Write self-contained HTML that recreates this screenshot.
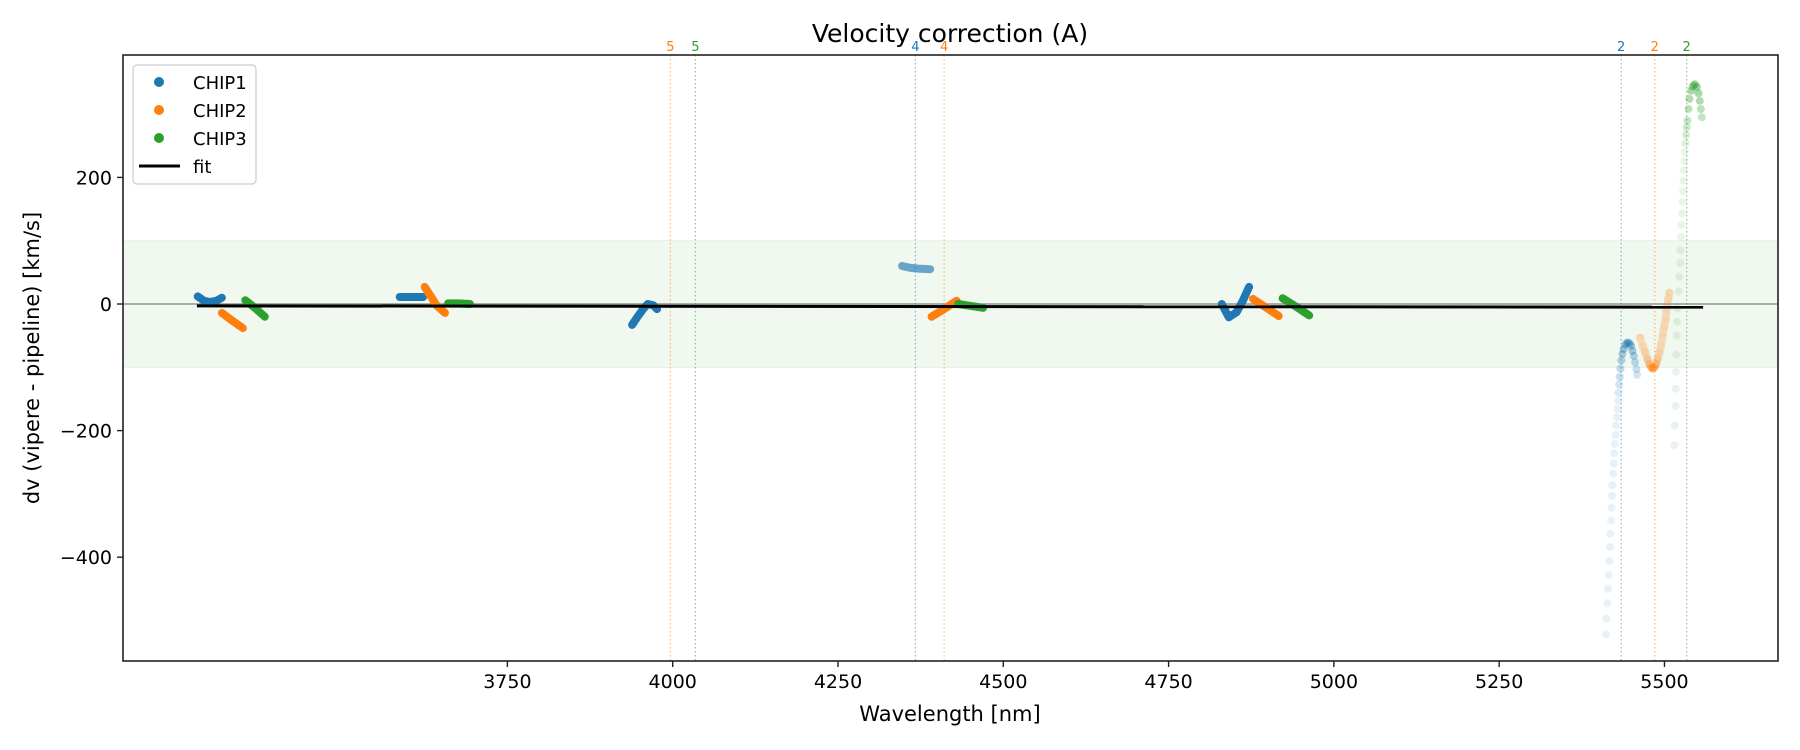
<!DOCTYPE html>
<html><head><meta charset="utf-8"><style>
html,body{margin:0;padding:0;background:#fff;}
svg{display:block;font-family:"DejaVu Sans","Liberation Sans",sans-serif;}
</style></head><body>
<svg id="chart" width="1800" height="750" viewBox="0 0 1800 750" xmlns="http://www.w3.org/2000/svg"></svg>
<script>
// ---- data ----
const xTicks = [3750, 4000, 4250, 4500, 4750, 5000, 5250, 5500];
const yTicks = [200, 0, -200, -400];
const chip1Wave = [[3281.6,3291,3300.5,3309.9,3318.2],[3587.1,3604.8,3622.5],[3938.6,3946.9,3955.2,3962.2,3970.5,3976.4],[4830.5,4841.1,4852.9,4862.3,4871.8]];
const chip1Dv   = [[12,5,3,5,10],[11,11,11],[-33,-20,-8,0,-2,-8],[0,-21,-13,5,27]];
const chip2Wave = [[3318.2,3333.5,3350],[3624.9,3634.3,3642.6,3655.6],[4391.6,4410.5,4429.4],[4877.7,4896.5,4916.6]];
const chip2Dv   = [[-14,-26,-38],[27,12,-2,-14],[-20,-8,5],[8,-5,-19]];
const chip3Wave = [[3353.6,3369,3383.1],[3660.3,3675.7,3693.4],[4431.8,4450.6,4469.5],[4922.5,4942.6,4962.6]];
const chip3Dv   = [[6,-7,-20],[1,1,0],[0,-3,-6],[9,-4,-18]];
// faded (low weight) segments
const chip1FadeWave = [4346.9,4359.9,4371.6,4389.3];
const chip1FadeDv = [60,57,56,55];
const chip1TailWave = [5411.7,5412.2,5413.7,5414.7,5415.7,5416.8,5417.7,5418.2,5419.3,5419.8,5420.8,5421.3,5422.3,5423.3,5423.7,5424.8,5425.7,5426.8,5427.9,5428.8,5429.9,5430.4,5431.4,5432.4,5433.4,5434.8,5436.4,5438.4,5441,5443.9,5447,5449.5,5451.5,5453.6,5455.6,5457.6,5458.6];
const chip1TailDv = [-522,-497,-473,-450,-428,-406,-384,-363,-342,-322,-303,-286,-268,-252,-236,-221,-207,-192,-179,-166,-153,-140,-127,-115,-102,-89,-79,-71,-64,-61,-62,-66,-74,-82,-92,-103,-112];
const chip2TailWave = [5463.2,5467.2,5470.7,5474.3,5477.2,5479.8,5482.3,5484.9,5487.3,5489.8,5492.4,5494.9,5497.4,5499.5,5501.5,5503,5504.5,5506,5507.5];
const chip2TailDv = [-53,-66,-76,-87,-95,-100,-102,-100,-95,-87,-76,-64,-50,-37,-24,-11,0,9,18];
const chip3TailWave = [5515.1,5515.5,5516.6,5517.1,5517.5,5518.1,5518.6,5519.1,5519.6,5521.7,5522.6,5523.7,5524.2,5525.1,5525.7,5526.6,5527.2,5528.2,5528.6,5529.7,5530.2,5530.6,5531.7,5532.8,5533.7,5534.8,5536.3,5537.7,5540.3,5542.8,5545.8,5548.9,5551.4,5553.4,5555,5556.5];
const chip3TailDv = [-223,-192,-161,-134,-107,-80,-50,-28,-7,20,43,65,85,106,125,143,161,178,195,211,226,240,254,267,279,290,308,324,337,344,347,343,333,321,308,295];
const fitWave = [3280.4, 5558.4];
const fitDv = [-3, -5];
const markWave = [3996.5, 4034.3, 4367, 4410.5, 5434.5, 5485.3, 5533.6];
const markLabel = ['5','5','4','4','2','2','2'];
const markChip = [2,3,1,2,1,2,3];
const bandLimits = [-100, 100];

// ---- layout ----
const L=123, R=1778, T=55, B=661;
const xMin=3168.6, xMax=5671.7, yMin=-564, yMax=393.4;
const X = w => L + (w - xMin) / (xMax - xMin) * (R - L);
const Y = v => B - (v - yMin) / (yMax - yMin) * (B - T);
const C = {1:'#1f77b4', 2:'#ff7f0e', 3:'#2ca02c'};
const NS='http://www.w3.org/2000/svg';
const svg=document.getElementById('chart');
function mk(tag, attrs, parent){const e=document.createElementNS(NS,tag);for(const k in attrs)e.setAttribute(k,attrs[k]);(parent||svg).appendChild(e);return e;}

const clip = mk('clipPath',{id:'plotclip'});
mk('rect',{x:L,y:T,width:R-L,height:B-T},clip);
const plot = mk('g',{'clip-path':'url(#plotclip)'});



const band = mk('rect',{x:L,y:Y(bandLimits[1]),width:R-L,height:Y(bandLimits[0])-Y(bandLimits[1]),fill:'#2ca02c','fill-opacity':0.07,stroke:'#2ca02c','stroke-opacity':0.1,'stroke-width':1},plot);



const zl = mk('line',{x1:L,x2:R,y1:Y(0),y2:Y(0),stroke:'#808080','stroke-width':1.2},plot);



markWave.forEach((w,i)=>{
  const ln = mk('line',{x1:X(w),x2:X(w),y1:T,y2:B,stroke:C[markChip[i]],'stroke-width':1.2,'stroke-dasharray':'1.5,2.5','stroke-opacity':0.55},plot);
  
  
  const t = mk('text',{x:X(w),y:T-4,'text-anchor':'middle','font-size':13,fill:C[markChip[i]]});
  t.textContent=markLabel[i];
  
  
});

function seg(waves, dvs, color, op, name){
  const pts = waves.map((w,i)=>X(w).toFixed(1)+','+Y(dvs[i]).toFixed(1)).join(' ');
  const p = mk('polyline',{points:pts,fill:'none',stroke:color,'stroke-width':8,'stroke-linecap':'round','stroke-linejoin':'round','stroke-opacity':op},plot);
  
  
}
chip1Wave.forEach((w,i)=>seg(w,chip1Dv[i],C[1],1,'chip1-segment'));
chip2Wave.forEach((w,i)=>seg(w,chip2Dv[i],C[2],1,'chip2-segment'));
chip3Wave.forEach((w,i)=>seg(w,chip3Dv[i],C[3],1,'chip3-segment'));
seg(chip1FadeWave, chip1FadeDv, C[1], 0.65, 'chip1-faded-segment');

function dots(waves, dvs, color, peakIdx, name){
  waves.forEach((w,i)=>{
    const d = Math.abs(i-peakIdx)/waves.length;
    const a = Math.max(0.1, 0.5 - d*1.6);
    const c = mk('circle',{cx:X(w),cy:Y(dvs[i]),r:4,fill:color,'fill-opacity':a},plot);
    
    
  });
}
seg(chip2TailWave, chip2TailDv, C[2], 0.2, 'chip2-tail-line');
dots(chip1TailWave, chip1TailDv, C[1], 29, 'chip1-tail-point');
dots(chip2TailWave, chip2TailDv, C[2], 6, 'chip2-tail-point');
dots(chip3TailWave, chip3TailDv, C[3], 30, 'chip3-tail-point');

const fit = mk('line',{x1:X(fitWave[0]),y1:Y(fitDv[0]),x2:X(fitWave[1]),y2:Y(fitDv[1]),stroke:'#000','stroke-width':3},plot);



const frame = mk('rect',{x:L,y:T,width:R-L,height:B-T,fill:'none',stroke:'#222','stroke-width':1.6});



xTicks.forEach(v=>{
  const tk = mk('line',{x1:X(v),x2:X(v),y1:B,y2:B+6,stroke:'#222','stroke-width':1.4});
  
  
  const t = mk('text',{x:X(v),y:B+27,'text-anchor':'middle','font-size':19,fill:'#000'});
  t.textContent=v;
  
  
});
yTicks.forEach(v=>{
  const tk = mk('line',{x1:L-6,x2:L,y1:Y(v),y2:Y(v),stroke:'#222','stroke-width':1.4});
  
  
  const t = mk('text',{x:L-11,y:Y(v)+7,'text-anchor':'end','font-size':19,fill:'#000'});
  t.textContent=v===0?'0':(v<0?'\u2212'+Math.abs(v):v);
  
  
});

const title=mk('text',{x:950,y:42,'text-anchor':'middle','font-size':25,fill:'#000'});
title.textContent='Velocity correction (A)';


const xl=mk('text',{x:950,y:721,'text-anchor':'middle','font-size':21,fill:'#000'});
xl.textContent='Wavelength [nm]';


const yl=mk('text',{x:0,y:0,'text-anchor':'middle','font-size':21,fill:'#000',transform:'translate(39,358) rotate(-90)'});
yl.textContent='dv (vipere - pipeline) [km/s]';



const lg=mk('g',{});


mk('rect',{x:133,y:65,width:123,height:119,rx:4,fill:'#fff','fill-opacity':0.85,stroke:'#ccc','stroke-width':1.2},lg);
const entries=[['CHIP1','#1f77b4'],['CHIP2','#ff7f0e'],['CHIP3','#2ca02c']];
entries.forEach((e,i)=>{
  const cy=82+i*28;
  const c=mk('circle',{cx:159,cy:cy,r:5,fill:e[1]},lg);
  
  
  const t=mk('text',{x:193,y:cy+7,'font-size':18,fill:'#000'},lg);
  t.textContent=e[0];
  
  
});
const fl=mk('line',{x1:139,x2:180,y1:166,y2:166,stroke:'#000','stroke-width':3},lg);


const ft=mk('text',{x:193,y:173,'font-size':18,fill:'#000'},lg);
ft.textContent='fit';


</script>
</body></html>
